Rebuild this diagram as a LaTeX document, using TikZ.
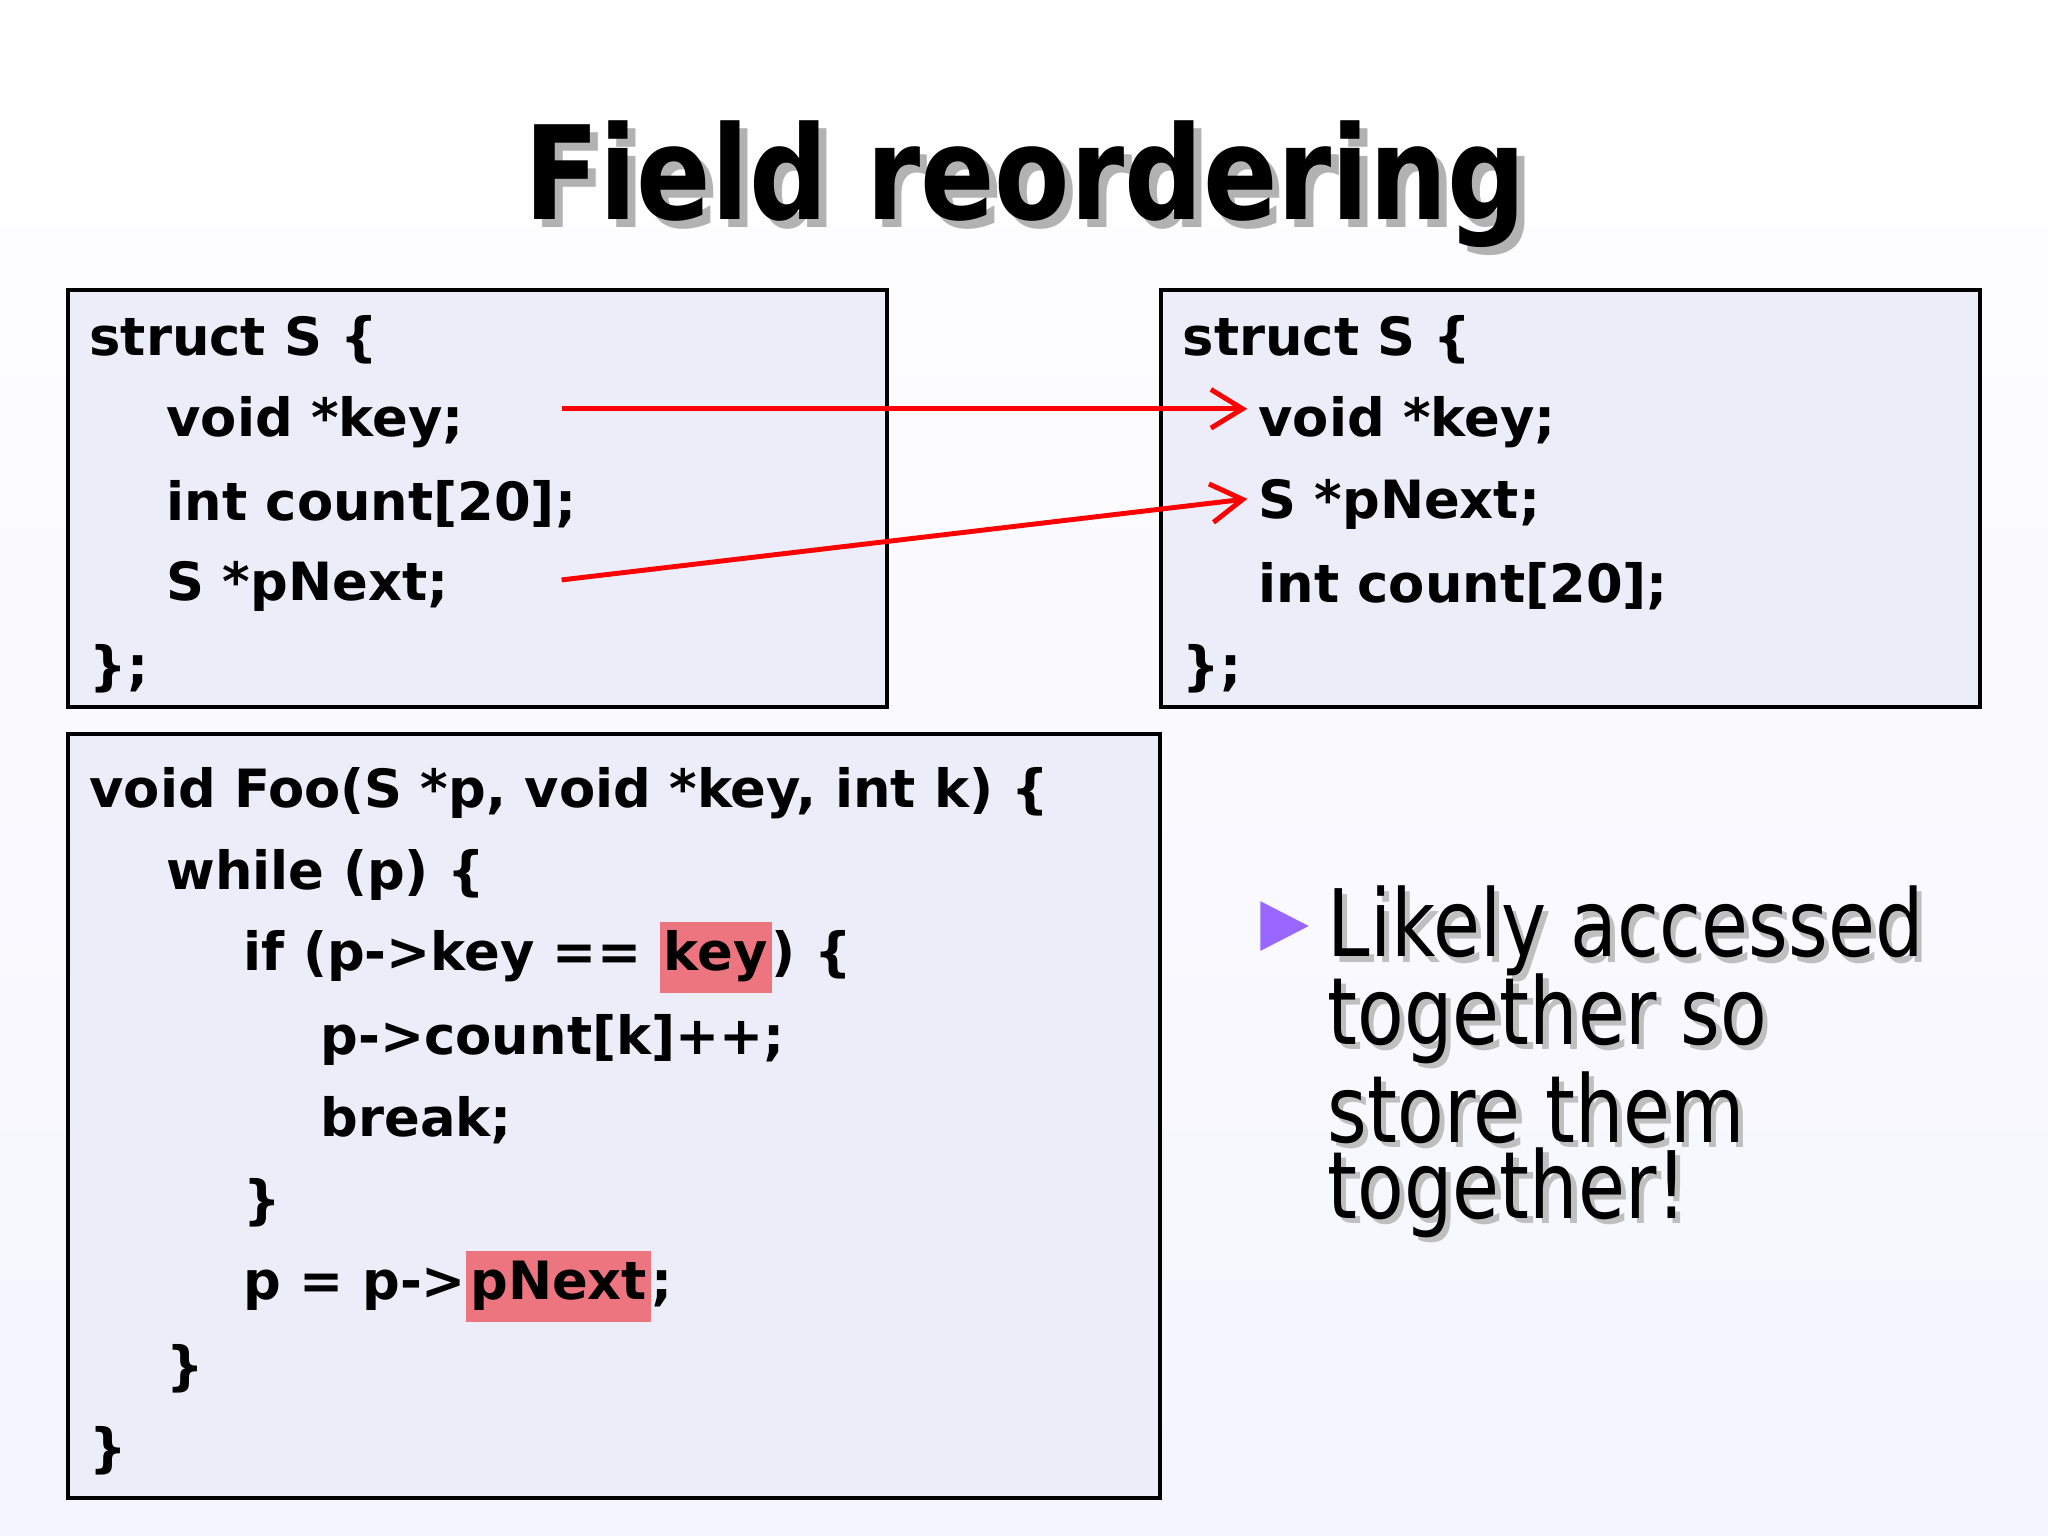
\documentclass[tikz,border=0pt]{standalone}
\usepackage{fontspec}
\setmainfont{DejaVu Sans}
\usetikzlibrary{arrows.meta}
\definecolor{boxfill}{HTML}{EDEDFA}
\definecolor{hl}{HTML}{EC7580}
\definecolor{bul}{HTML}{9966FF}
\newcommand{\hlbox}[1]{{\setlength{\fboxsep}{1.2pt}\colorbox{hl}{\strut #1}}}
\newcommand{\ttl}{\scalebox{0.845}[1]{Field reordering}}
\newcommand{\bigt}[1]{\scalebox{0.82}[1]{#1}}
\begin{document}
\begin{tikzpicture}[x=0.01306cm,y=-0.01306cm,
  box/.style={draw=black,line width=1.1pt,fill=boxfill},
  code/.style={anchor=west,inner sep=0pt,font=\fontsize{15}{18}\bfseries\selectfont},
  arr/.style={red,line width=1.4pt,-{Straight Barb[length=9pt,width=11pt,line width=1.4pt]}},
  big/.style={anchor=west,inner sep=0pt,font=\fontsize{26.5}{30}\selectfont}]
\useasboundingbox (0,0) rectangle (1568,1176);
\shade[top color=white,bottom color=black!8!blue!4] (0,0) rectangle (1568,1176);
% title
\node[text=black!30,font=\fontsize{37}{40}\bfseries\selectfont] at (791,147) {\ttl};
\node (title)[font=\fontsize{37}{40}\bfseries\selectfont] at (785,141) {\ttl};
% boxes
\draw[box] (52,222) rectangle (679,541);
\draw[box] (889,222) rectangle (1516,541);
\draw[box] (52,562) rectangle (888,1147);
% box1
\node[code] (a1) at (68,260) {struct S \{};
\node[code] (a2) at (127,323) {void *key;};
\node[code] (a3) at (127,386) {int count[20];};
\node[code] (a4) at (127,449) {S *pNext;};
\node[code] (a5) at (68,512) {\};};
% box2
\node[code] (b1) at (905,260) {struct S \{};
\node[code] (b2) at (963,323) {void *key;};
\node[code] (b3) at (963,386) {S *pNext;};
\node[code] (b4) at (963,449) {int count[20];};
\node[code] (b5) at (905,512) {\};};
% box3
\node[code] (c1) at (68,607) {void Foo(S *p, void *key, int k) \{};
\node[code] (c2) at (127,670) {while (p) \{};
\node[code] (c3) at (186,733) {if (p->key == \hlbox{key}) \{};
\node[code] (c4) at (245,796) {p->count[k]++;};
\node[code] (c5) at (245,858) {break;};
\node[code] (c6) at (186,921) {\}};
\node[code] (c7) at (186,985) {p = p->\hlbox{pNext};};
\node[code] (c8) at (127,1048) {\}};
\node[code] (c9) at (68,1111) {\}};
% arrows
\coordinate (s1) at (430,313);
\coordinate (s2) at (430,444);
\draw[arr,shorten >=3pt] (s1) -- (b2.west |- 0,313);
\draw[arr,shorten >=3pt] (s2) -- (b3.west |- 0,381);
% bullet
\fill[bul] (965,690) -- (1002,709) -- (965,728) -- cycle;
\foreach \t/\yy [count=\i] in {Likely accessed/713,together so/780,store them/848,together!/913}{
  \node[big,text=black!25] at (1020,\yy+4) {\bigt{\t}};
  \node[big] (t\i) at (1016,\yy) {\bigt{\t}};
}
\end{tikzpicture}
\end{document}
